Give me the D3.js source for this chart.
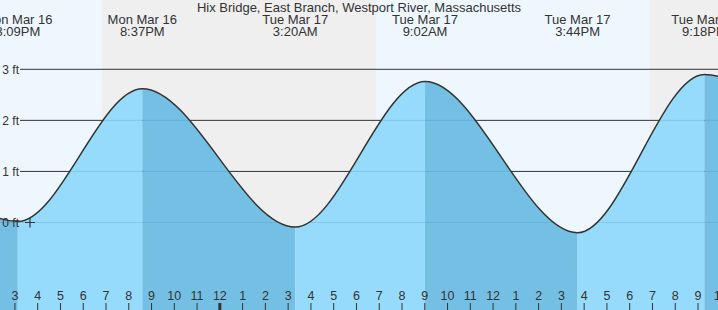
<!DOCTYPE html>
<html>
<head>
<meta charset="utf-8">
<script src="https://cdn.jsdelivr.net/npm/d3@7"></script>
<style>
  body { margin: 0; background: #fff; }
  svg { display: block; font-family: "Liberation Sans", Arial, sans-serif; }
</style>
</head>
<body>
<script>
const W = 718, H = 310

// tide extremes (first and last lie just outside the visible window)
const tideTimes = ['2026-03-16T08:52', '2026-03-16T15:09', '2026-03-16T20:37', '2026-03-17T03:20',
                   '2026-03-17T09:02', '2026-03-17T15:44', '2026-03-17T21:18', '2026-03-18T04:05']
const tideHeights = [2.55, 0.02, 2.62, -0.09, 2.76, -0.2, 2.9, -0.15]
const tideDays = ['Mon Mar 16', 'Mon Mar 16', 'Mon Mar 16', 'Tue Mar 17', 'Tue Mar 17', 'Tue Mar 17', 'Tue Mar 17', 'Wed Mar 18']
const tideClock = ['8:52AM', '3:09PM', '8:37PM', '3:20AM', '9:02AM', '3:44PM', '9:18PM', '4:05AM']

const nightStarts = ['2026-03-16T18:51', '2026-03-17T18:54']
const nightEnds = ['2026-03-17T06:53', '2026-03-18T06:52']

const yTicks = [0, 1, 2, 3]
const hourStart = '2026-03-16T15:00', hourEnd = '2026-03-17T22:30'
const nowTime = '2026-03-16T15:41'

const parse = s => new Date(s)
const tides = tideTimes.map((t, i) => ({t: parse(t), h: tideHeights[i], day: tideDays[i], clock: tideClock[i]}))

const x = d3.scaleTime()
      .domain([new Date(2026, 2, 16, 14, 22), new Date(2026, 2, 17, 21, 54)])
      .range([0, W])
const y = d3.scaleLinear()
      .domain([0, 3])
      .range([222.5, 69.3])

const svg = d3.select('body').append('svg')
      .attr('width', W)
      .attr('height', H)

// day / night backgrounds
svg.append('rect').attr('width', W).attr('height', H).attr('fill', '#eef7fe')
svg.selectAll('.night')
  .data(nightStarts)
  .enter().append('rect')
    .attr('class', 'night')
    .attr('x', d => x(parse(d)))
    .attr('width', (d, i) => x(parse(nightEnds[i])) - x(parse(d)))
    .attr('y', 0)
    .attr('height', H)
    .attr('fill', '#efefef')

// grid lines (dark, later covered by water)
svg.selectAll('.grid')
  .data(yTicks.filter(d => d > 0))
  .enter().append('line')
    .attr('class', 'grid')
    .attr('x1', 20).attr('x2', W)
    .attr('y1', d => y(d)).attr('y2', d => y(d))
    .attr('stroke', '#333')
    .attr('stroke-width', 1)

const line = d3.line()
      .x(d => x(d.t))
      .y(d => y(d.h))
      .curve(d3.curveMonotoneX)
const area = d3.area()
      .x(d => x(d.t))
      .y0(H)
      .y1(d => y(d.h))
      .curve(d3.curveMonotoneX)

svg.append('clipPath').attr('id', 'water')
  .append('path').attr('d', area(tides))

// rising = light, falling = dark
const segs = d3.pairs(tides)
svg.append('g')
  .attr('clip-path', 'url(#water)')
  .selectAll('rect')
  .data(segs)
  .enter().append('rect')
    .attr('x', d => x(d[0].t))
    .attr('width', d => x(d[1].t) - x(d[0].t))
    .attr('y', 0)
    .attr('height', H)
    .attr('fill', d => d[1].h > d[0].h ? '#97dbfc' : '#73c0e4')

// faint grid lines through the water
svg.append('g')
  .attr('clip-path', 'url(#water)')
  .selectAll('line')
  .data(yTicks)
  .enter().append('line')
    .attr('x1', 0).attr('x2', W)
    .attr('y1', d => y(d)).attr('y2', d => y(d))
    .attr('stroke', 'rgba(40,110,160,0.18)')

svg.append('path')
  .attr('d', line(tides))
  .attr('fill', 'none')
  .attr('stroke', '#333')
  .attr('stroke-width', 1.5)

// y labels
svg.selectAll('.ylab')
  .data(yTicks)
  .enter().append('text')
    .attr('class', 'ylab')
    .attr('x', 19)
    .attr('y', d => y(d))
    .attr('dy', '0.35em')
    .attr('text-anchor', 'end')
    .attr('font-size', 12)
    .attr('fill', '#333')
    .text(d => d + ' ft')

// now marker
const nx = x(parse(nowTime)), ny = y(0)
svg.append('path')
  .attr('d', `M${nx - 5},${ny}H${nx + 5}M${nx},${ny - 5}V${ny + 5}`)
  .attr('stroke', '#333')
  .attr('stroke-width', 1.2)

// hour axis
const hourAxis = d3.axisTop(x)
      .tickValues(d3.timeHour.range(parse(hourStart), parse(hourEnd)))
      .tickSize(7)
      .tickPadding(3)
      .tickFormat(d3.timeFormat('%-I'))
const ax = svg.append('g')
      .attr('transform', 'translate(0,' + H + ')')
      .call(hourAxis)
ax.select('.domain').remove()
ax.selectAll('text').attr('font-size', 12.5).attr('fill', '#333').attr('font-family', null)
ax.selectAll('line')
  .attr('stroke', '#333')
  .attr('stroke-width', d => d.getHours() === 0 ? 3 : 1)

// title
svg.append('text')
  .attr('x', 359).attr('y', 12)
  .attr('text-anchor', 'middle')
  .attr('font-size', 13)
  .attr('fill', '#333')
  .text('Hix Bridge, East Branch, Westport River, Massachusetts')

// event labels
const lab = svg.selectAll('.ev')
  .data(tides.slice(1, 7))
  .enter().append('text')
    .attr('class', 'ev')
    .attr('text-anchor', 'middle')
    .attr('font-size', 13)
    .attr('fill', '#333')
lab.append('tspan').attr('x', d => x(d.t)).attr('y', 24).text(d => d.day)
lab.append('tspan').attr('x', d => x(d.t)).attr('y', 36).text(d => d.clock)
</script>
</body>
</html>
